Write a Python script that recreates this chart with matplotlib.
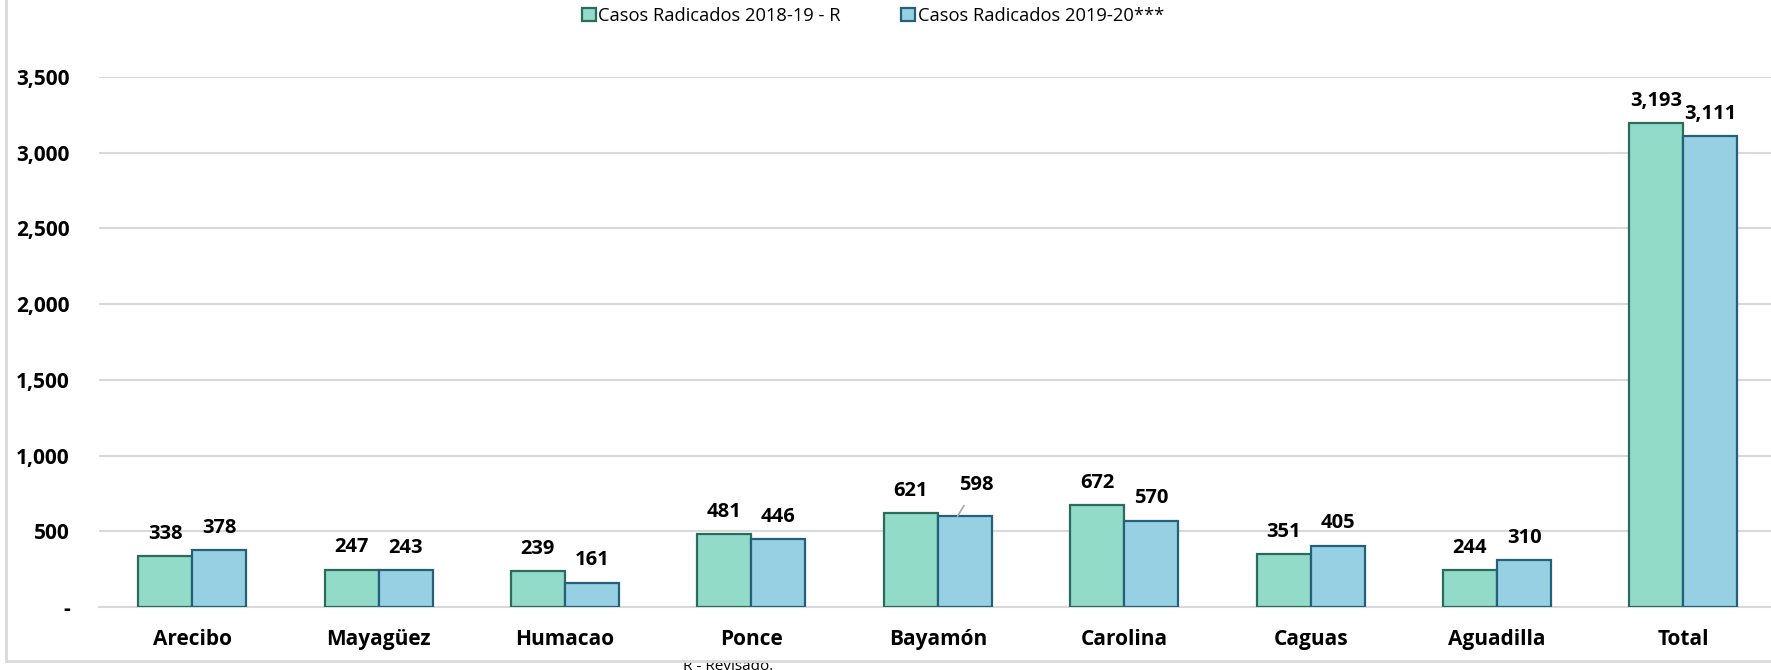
import matplotlib.pyplot as plt
from matplotlib.lines import Line2D
from matplotlib.patches import Rectangle
from matplotlib.ticker import FuncFormatter
import numpy as np

plt.rcParams['font.family'] = ['Open Sans', 'DejaVu Sans']

regiones = ['Arecibo', 'Mayagüez', 'Humacao', 'Ponce', 'Bayamón',
            'Carolina', 'Caguas', 'Aguadilla', 'Total']
casos_2018_19 = [338, 247, 239, 481, 621, 672, 351, 244, 3193]
casos_2019_20 = [378, 243, 161, 446, 598, 570, 405, 310, 3111]
serie_nombres = ['Casos Radicados 2018-19 - R', 'Casos Radicados 2019-20***']
nota = 'R - Revisado.'

verde = '#92DBC9'
verde_borde = '#2B6B5A'
azul = '#96D0E2'
azul_borde = '#25607A'
gris = '#D9D9D9'

fig = plt.figure(figsize=(17.71, 6.70), dpi=100)
ax = fig.add_axes([99 / 1771, 1 - 607 / 670, 1 - 99 / 1771, (607 - 77) / 670])

x = np.arange(len(regiones))
w = 0.29
b1 = ax.bar(x - w / 2, casos_2018_19, w, color=verde, edgecolor=verde_borde,
            linewidth=1.6, label=serie_nombres[0], zorder=3)
b2 = ax.bar(x + w / 2, casos_2019_20, w, color=azul, edgecolor=azul_borde,
            linewidth=1.6, label=serie_nombres[1], zorder=3)

ax.set_ylim(0, 3500)
ax.set_xlim(-0.5, 8.47)
ax.set_yticks(np.arange(0, 3501, 500))
ax.yaxis.set_major_formatter(FuncFormatter(lambda v, p: '-' if v == 0 else f'{int(v):,}'))
ax.grid(axis='y', color=gris, linewidth=1.5, zorder=0)
ax.set_axisbelow(True)
for s in ['top', 'right', 'left']:
    ax.spines[s].set_visible(False)
ax.spines['bottom'].set_color(gris)
ax.spines['bottom'].set_linewidth(1.5)
ax.tick_params(axis='both', length=0, labelsize=15)
ax.tick_params(axis='y', pad=21)
ax.tick_params(axis='x', pad=16)
ax.set_xticks(x)
ax.set_xticklabels(regiones, fontweight='bold')
for lbl in ax.get_yticklabels():
    lbl.set_fontweight('bold')

# etiquetas de valores
for bars, vals in ((b1, casos_2018_19), (b2, casos_2019_20)):
    for rect, v in zip(bars, vals):
        cx = rect.get_x() + rect.get_width() / 2
        if v == 598:
            ax.annotate(f'{v:,}', (cx - 0.04, v), xytext=(14, 23),
                        textcoords='offset points', ha='center', va='center',
                        fontsize=14.5, fontweight='bold',
                        arrowprops=dict(arrowstyle='-', color='#A6A6A6', lw=1.2,
                                        shrinkA=7, shrinkB=0))
        else:
            ax.annotate(f'{v:,}', (cx, v), xytext=(0, 16),
                        textcoords='offset points', ha='center', va='center',
                        fontsize=14.5, fontweight='bold')

fig.legend(handles=[b1, b2], labels=serie_nombres, loc='center',
           bbox_to_anchor=(873 / 1771, 1 - 16 / 670), ncol=2, frameon=False,
           fontsize=13.2, handlelength=0.75, handleheight=0.75, handletextpad=0.15,
           columnspacing=3.3)

# borde del area del grafico y nota recortada
fig.text(728 / 1771, 1 - 670 / 670, nota, ha='center', va='baseline',
         fontsize=11, zorder=1)
fig.patches.append(Rectangle((670 / 1771, 1 - 661 / 670), 120 / 1771, 9 / 670,
                             transform=fig.transFigure, facecolor='white',
                             edgecolor='none', zorder=2))
fig.lines.append(Line2D([6 / 1771, 6 / 1771], [1 - 661 / 670, 1],
                        transform=fig.transFigure, color=gris, linewidth=2, zorder=4))
fig.lines.append(Line2D([6 / 1771, 1], [1 - 661 / 670, 1 - 661 / 670],
                        transform=fig.transFigure, color=gris, linewidth=2, zorder=4))

plt.savefig('out.png', dpi=100)
plt.close()
